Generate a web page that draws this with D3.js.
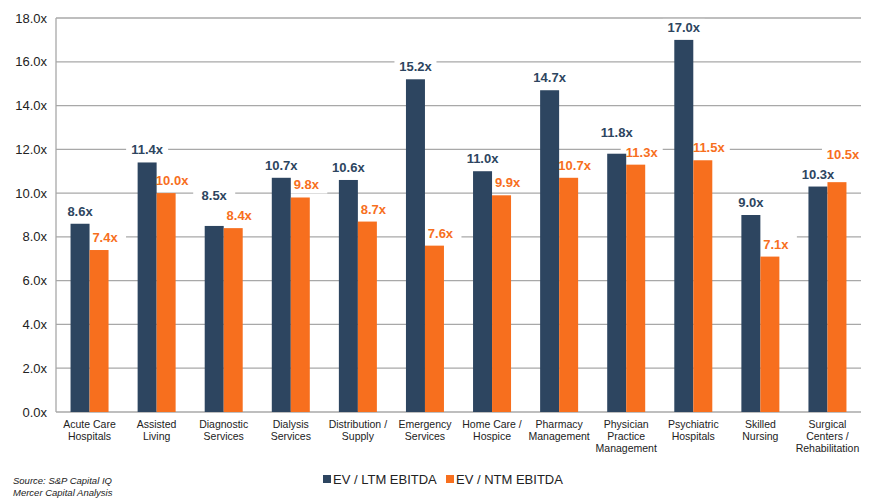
<!DOCTYPE html>
<html>
<head>
<meta charset="utf-8">
<script src="https://cdn.jsdelivr.net/npm/d3@7"></script>
<style>
  body { margin: 0; background: #fff; }
  text { font-family: "Liberation Sans", Arial, sans-serif; }
</style>
</head>
<body>
<div id="graph"></div>
<script>
var categories = [
  ["Acute Care", "Hospitals"],
  ["Assisted", "Living"],
  ["Diagnostic", "Services"],
  ["Dialysis", "Services"],
  ["Distribution /", "Supply"],
  ["Emergency", "Services"],
  ["Home Care /", "Hospice"],
  ["Pharmacy", "Management"],
  ["Physician", "Practice", "Management"],
  ["Psychiatric", "Hospitals"],
  ["Skilled", "Nursing"],
  ["Surgical", "Centers /", "Rehabilitation"]
];
var ltmValues = [8.6, 11.4, 8.5, 10.7, 10.6, 15.2, 11.0, 14.7, 11.8, 17.0, 9.0, 10.3];
var ntmValues = [7.4, 10.0, 8.4, 9.8, 8.7, 7.6, 9.9, 10.7, 11.3, 11.5, 7.1, 10.5];
var seriesNames = ["EV / LTM EBITDA", "EV / NTM EBITDA"];
var yTicks = [0, 2, 4, 6, 8, 10, 12, 14, 16, 18];

var colors = ["#2D4560", "#F76F1E"];

var margin = {top: 18, right: 11, bottom: 86, left: 56},
    width = 872 - margin.left - margin.right,
    height = 498 - margin.top - margin.bottom;

var svg = d3.select("#graph").append("svg")
    .attr("width", 872)
    .attr("height", 498);

var g = svg.append("g")
    .attr("transform", "translate(" + margin.left + "," + margin.top + ")");

var x = d3.scaleBand()
    .domain(d3.range(categories.length))
    .range([0, width]);

var xSub = d3.scaleBand()
    .domain([0, 1])
    .range([x.bandwidth() / 2 - 19, x.bandwidth() / 2 + 19]);

var y = d3.scaleLinear()
    .domain([0, 18])
    .range([height, 0]);

// gridlines
g.selectAll(".grid")
  .data(yTicks)
  .enter().append("line")
    .attr("x1", 0)
    .attr("x2", width)
    .attr("y1", function(d) { return y(d); })
    .attr("y2", function(d) { return y(d); })
    .attr("stroke", "#A8A8A8")
    .attr("stroke-width", 1.3);

g.append("line")
    .attr("x1", 0).attr("x2", 0)
    .attr("y1", 0).attr("y2", height)
    .attr("stroke", "#A8A8A8")
    .attr("stroke-width", 1.3);

// y axis labels
g.selectAll(".ylab")
  .data(yTicks)
  .enter().append("text")
    .attr("x", -9)
    .attr("y", function(d) { return y(d) + 4.5; })
    .attr("text-anchor", "end")
    .attr("font-size", 13)
    .attr("fill", "#222")
    .text(function(d) { return d.toFixed(1) + "x"; });

// label placement: sit above the bar, and lift the taller bar's label
// over its neighbour's when the two would collide
var data = categories.map(function(c, i) {
  var v = [ltmValues[i], ntmValues[i]];
  var base = v.map(function(d) { return y(d) - 8; });
  if (Math.abs(base[0] - base[1]) < 16) {
    if (v[0] >= v[1]) base[0] = base[1] - 20;
    else base[1] = base[0] - 20;
  }
  return v.map(function(d, j) { return {v: d, s: j, ly: base[j]}; });
});

function labelX(d) {
  return xSub(d.s) + xSub.bandwidth() / 2 + (d.s === 1 ? 6 : 0);
}

var groups = g.selectAll(".grp")
  .data(data)
  .enter().append("g")
    .attr("transform", function(d, i) { return "translate(" + x(i) + ",0)"; });

// white boxes behind labels (only hide gridlines)
groups.selectAll(".lblbg")
  .data(function(d) { return d; })
  .enter().append("rect")
    .attr("x", function(d) { return labelX(d) - 21; })
    .attr("y", function(d) { return d.ly - 13; })
    .attr("width", 42)
    .attr("height", 17)
    .attr("fill", "#fff");

groups.selectAll(".bar")
  .data(function(d) { return d; })
  .enter().append("rect")
    .attr("x", function(d) { return xSub(d.s); })
    .attr("width", xSub.bandwidth())
    .attr("y", function(d) { return y(d.v); })
    .attr("height", function(d) { return height - y(d.v); })
    .attr("fill", function(d) { return colors[d.s]; });

groups.selectAll(".lbl")
  .data(function(d) { return d; })
  .enter().append("text")
    .attr("x", labelX)
    .attr("y", function(d) { return d.ly; })
    .attr("text-anchor", "middle")
    .attr("font-size", 13)
    .attr("font-weight", "bold")
    .attr("fill", function(d) { return colors[d.s]; })
    .text(function(d) { return d.v.toFixed(1) + "x"; });

// category labels
groups.append("text")
    .attr("text-anchor", "middle")
    .attr("font-size", 10.5)
    .attr("fill", "#222")
    .selectAll("tspan")
    .data(function(d, i) { return categories[i]; })
    .enter().append("tspan")
      .attr("x", x.bandwidth() / 2)
      .attr("y", function(d, k) { return height + 16 + k * 12; })
      .text(function(d) { return d; });

// legend
var legendX = [323, 446];
var legend = svg.selectAll(".legend")
  .data(seriesNames)
  .enter().append("g")
    .attr("transform", function(d, i) { return "translate(" + legendX[i] + ",475)"; });

legend.append("rect")
    .attr("width", 8)
    .attr("height", 8)
    .attr("fill", function(d, i) { return colors[i]; });

legend.append("text")
    .attr("x", 10)
    .attr("y", 9)
    .attr("font-size", 13)
    .attr("fill", "#222")
    .text(function(d) { return d; });

// source note
svg.append("text")
    .attr("x", 13).attr("y", 484)
    .attr("font-size", 9.5)
    .attr("font-style", "italic")
    .attr("fill", "#222")
    .text("Source:  S&P Capital IQ");

svg.append("text")
    .attr("x", 13).attr("y", 496)
    .attr("font-size", 9.5)
    .attr("font-style", "italic")
    .attr("fill", "#222")
    .text("Mercer Capital Analysis");
</script>
</body>
</html>
